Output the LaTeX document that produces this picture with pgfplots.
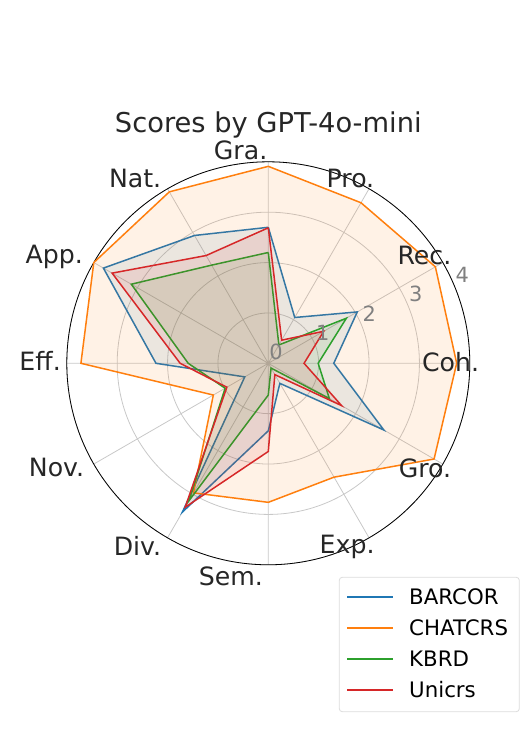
\documentclass[border=0pt]{standalone}
\usepackage{fontspec}
\setmainfont{DejaVu Sans}
\usepackage{pgfplots}
\pgfplotsset{compat=1.18}
\usepgfplotslibrary{polar}
\definecolor{cB}{HTML}{1F77B4}
\definecolor{cO}{HTML}{FF7F0E}
\definecolor{cG}{HTML}{2CA02C}
\definecolor{cR}{HTML}{D62728}
\definecolor{txt}{HTML}{262626}
\definecolor{gridc}{HTML}{C8C8C8}
\definecolor{tickc}{HTML}{808080}
\definecolor{legc}{HTML}{DCDCDC}
\begin{document}
\begin{tikzpicture}
\useasboundingbox (0,0) rectangle (523bp,732bp);
% legend box
\draw[legc, line width=0.8bp, fill=white, rounded corners=3bp] (339.3bp,20.3bp) rectangle (519.3bp,154.7bp);
\fill[cB] (347bp,134bp) rectangle (393bp,136bp);
\fill[cO] (347bp,103bp) rectangle (393bp,105bp);
\fill[cG] (347bp,72bp) rectangle (393bp,74bp);
\fill[cR] (347bp,41bp) rectangle (393bp,43bp);
\begin{scope}[every node/.style={anchor=base west, inner sep=0pt, font=\fontsize{21.4}{25}\selectfont, text=black}]
\node at (409bp,127.7bp) {BARCOR};
\node at (409bp,96.7bp) {CHATCRS};
\node at (409bp,65.7bp) {KBRD};
\node at (409bp,34.7bp) {Unicrs};
\end{scope}
\node[anchor=base, text=txt, font=\fontsize{27.4}{32}\selectfont, inner sep=0pt] at (268.3bp,599.3bp) {Scores by GPT-4o-mini};
\begin{polaraxis}[
  at={(268.3bp,368.7bp)}, anchor=center,
  scale only axis, width=403bp, height=403bp,
  ymin=0, ymax=4,
  xtick={0,30,...,330}, ytick={1,2,3,4},
  xticklabels={}, yticklabels={},
  major tick length=0pt,
  grid=major,
  major grid style={draw=gridc, line width=0.8bp},
  axis line style={line width=0.8bp},
  x axis line style={draw=black},
  y axis line style={draw=none},
  clip=false,
]
\addplot[draw=cB, line width=1.5bp, fill=cB, fill opacity=0.1, draw opacity=1] coordinates {
(90,2.70) (60,1.05) (30,2.04) (0,1.30) (-30,2.65) (-60,0.46) (-90,1.34) (-120,3.41) (-150,0.54) (-180,2.23) (-210,3.78) (-240,2.93) (-270,2.70)};
\addplot[draw=cO, line width=1.5bp, fill=cO, fill opacity=0.1, draw opacity=1] coordinates {
(90,3.91) (60,3.68) (30,3.83) (0,3.74) (-30,3.80) (-60,2.61) (-90,2.76) (-120,2.97) (-150,1.26) (-180,3.72) (-210,4.00) (-240,3.93) (-270,3.91)};
\addplot[draw=cG, line width=1.5bp, fill=cG, fill opacity=0.1, draw opacity=1] coordinates {
(90,2.20) (60,0.42) (30,1.79) (0,0.99) (-30,1.40) (-60,0.11) (-90,0.63) (-120,3.15) (-150,0.99) (-180,1.59) (-210,3.14) (-240,2.25) (-270,2.20)};
\addplot[draw=cR, line width=1.5bp, fill=cR, fill opacity=0.1, draw opacity=1] coordinates {
(90,2.69) (60,0.53) (30,1.27) (0,0.71) (-30,1.68) (-60,0.26) (-90,1.75) (-120,3.30) (-150,0.95) (-180,1.75) (-210,3.58) (-240,2.47) (-270,2.69)};
% category labels
\begin{scope}[every node/.style={text=txt, font=\fontsize{25.3}{30}\selectfont, inner sep=0pt, anchor=center}]
\node at (axis cs:97.4,4.27) {Gra.};
\node at (axis cs:66.0,4.01) {Pro.};
\node at (axis cs:34.7,3.77) {Rec.};
\node at (axis cs:0.25,3.62) {Coh.};
\node at (axis cs:326.3,3.74) {Gro.};
\node at (axis cs:293.2,3.97) {Exp.};
\node at (axis cs:260.05,4.29) {Sem.};
\node at (axis cs:234.4,4.46) {Div.};
\node at (axis cs:206.1,4.68) {Nov.};
\node at (axis cs:179.4,4.53) {Eff.};
\node at (axis cs:153.5,4.75) {App.};
\node at (axis cs:125.7,4.53) {Nat.};
\end{scope}
% radial tick labels
\begin{scope}[every node/.style={text=tickc, font=\fontsize{21}{25}\selectfont, inner xsep=1bp, inner ysep=3.5bp, anchor=south west}]
\node at (axis cs:22.5,0) {0};
\node at (axis cs:22.5,1) {1};
\node at (axis cs:22.5,2) {2};
\node at (axis cs:22.5,3) {3};
\node at (axis cs:22.5,4) {4};
\end{scope}
\end{polaraxis}
\end{tikzpicture}
\end{document}
